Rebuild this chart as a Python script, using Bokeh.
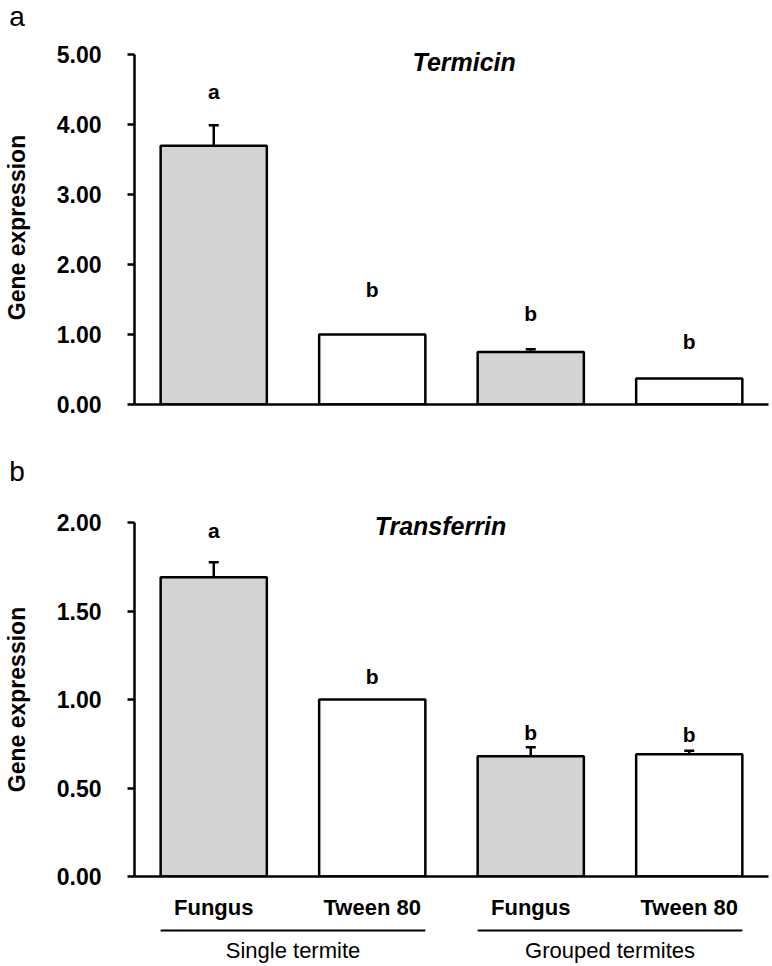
from bokeh.plotting import figure
from bokeh.models import (Range1d, FixedTicker, NumeralTickFormatter, ColumnDataSource,
                          Whisker, TeeHead, LabelSet, Label)
from bokeh.layouts import column
from bokeh.embed import file_html
from bokeh.resources import INLINE
from bokeh.core.properties import value

# ---------------- data ----------------
treatments = ["Fungus", "Tween 80", "Fungus", "Tween 80"]
groups = ["Single termite", "Single termite", "Grouped termites", "Grouped termites"]

termicin_mean = [3.70, 1.00, 0.75, 0.37]
termicin_err = [0.29, 0.0, 0.04, 0.0]
termicin_letters = ["a", "b", "b", "b"]
termicin_letter_y = [4.37, 1.53, 1.19, 0.80]
termicin_ticks = [0, 1, 2, 3, 4, 5]

transferrin_mean = [1.69, 1.00, 0.68, 0.69]
transferrin_err = [0.085, 0.0, 0.05, 0.02]
transferrin_letters = ["a", "b", "b", "b"]
transferrin_letter_y = [1.91, 1.085, 0.77, 0.76]
transferrin_ticks = [0, 0.5, 1.0, 1.5, 2.0]

# ---------------- style ----------------
FONT = "Liberation Sans"
W = 772
BL, BR = 131, 4
xs = [i + 0.5 for i in range(len(treatments))]
x_range = Range1d(0, len(treatments))
colors = ["#d3d3d3" if t == "Fungus" else "#ffffff" for t in treatments]


def make_panel(means, errs, letters, letter_y, ticks, ymax, yextra, title, plabel,
               height, btop, bbot, title_xy, title_side, plabel_xy, both, show_x_labels):
    p = figure(width=W, height=height, x_range=x_range, y_range=Range1d(0, ymax + yextra),
               output_backend="svg", toolbar_location=None,
               min_border_left=BL, min_border_right=BR,
               min_border_top=btop, min_border_bottom=bbot)
    p.outline_line_color = None
    p.grid.visible = False

    src = ColumnDataSource(dict(x=xs, top=means, color=colors, lab=letters, ly=letter_y))
    p.vbar(x="x", top="top", width=0.67, source=src, fill_color="color",
           line_color="black", line_width=2.5)

    keep = [i for i, e in enumerate(errs) if e > 0]
    wsrc = ColumnDataSource(dict(
        x=[xs[i] for i in keep],
        upper=[means[i] + errs[i] for i in keep],
        lower=[(means[i] - errs[i]) if both else means[i] for i in keep]))
    w = Whisker(base="x", upper="upper", lower="lower", source=wsrc,
                line_color="black", line_width=2.5,
                upper_head=TeeHead(size=10, line_width=2.5, line_color="black"),
                lower_head=TeeHead(size=10, line_width=2.5, line_color="black") if both else None)
    p.add_layout(w)

    p.add_layout(LabelSet(x="x", y="ly", text="lab", source=src, text_align="center",
                          text_baseline="alphabetic",
                          text_font=value(FONT), text_font_style="bold",
                          text_font_size="21px", text_color="black"))

    tl = Label(x=title_xy[0], y=title_xy[1], text=title, text_align="center",
               text_baseline="middle", text_font=FONT,
               text_font_style="bold italic", text_font_size="25px", text_color="black")
    if title_side == "center":
        p.add_layout(tl)
    else:
        p.add_layout(tl, title_side)
    # panel letter, placed in the top border so it is not clipped
    p.add_layout(Label(x=plabel_xy[0], y=plabel_xy[1], text=plabel, text_align="left",
                       text_baseline="middle", text_font=FONT,
                       text_font_size="28px", text_color="black"), "above")

    ya = p.yaxis[0]
    ya.bounds = (0, ymax)
    ya.ticker = FixedTicker(ticks=ticks)
    ya.formatter = NumeralTickFormatter(format="0.00")
    ya.axis_label = "Gene expression"
    ya.axis_label_text_font = FONT
    ya.axis_label_text_font_style = "bold"
    ya.axis_label_text_font_size = "23px"
    ya.axis_label_standoff = 24
    ya.major_label_text_font = FONT
    ya.major_label_text_font_style = "bold"
    ya.major_label_text_font_size = "23px"
    ya.major_label_standoff = 26
    ya.axis_line_width = 2.5
    ya.major_tick_line_width = 2.5
    ya.major_tick_out = 7
    ya.major_tick_in = 0
    ya.minor_tick_line_color = None
    ya.axis_line_color = "black"
    ya.major_tick_line_color = "black"
    ya.major_label_text_color = "black"
    ya.axis_label_text_color = "black"

    xa = p.xaxis[0]
    xa.axis_line_width = 2.5
    xa.axis_line_color = "black"
    xa.minor_tick_line_color = None
    xa.major_tick_line_color = None
    xa.major_tick_out = 0
    xa.major_tick_in = 0
    if show_x_labels:
        xa.ticker = FixedTicker(ticks=xs)
        xa.major_label_overrides = {x: t for x, t in zip(xs, treatments)}
        xa.major_label_text_font = FONT
        xa.major_label_text_font_style = "bold"
        xa.major_label_text_font_size = "22px"
        xa.major_label_text_color = "black"
        xa.major_label_standoff = 18
    else:
        xa.ticker = FixedTicker(ticks=[])
    return p


p1 = make_panel(termicin_mean, termicin_err, termicin_letters, termicin_letter_y,
                termicin_ticks, 5, 0.06, "Termicin", "a", height=440, btop=50, bbot=36,
                title_xy=(2.08, 4.90), title_side="center", plabel_xy=(-0.79, 5.54),
                both=False, show_x_labels=False)
p2 = make_panel(transferrin_mean, transferrin_err, transferrin_letters, transferrin_letter_y,
                transferrin_ticks, 2, 0.0, "Transferrin", "b", height=482, btop=82, bbot=46,
                title_xy=(1.93, 1.98), title_side="above", plabel_xy=(-0.79, 2.29),
                both=True, show_x_labels=True)

# group labels strip
p3 = figure(width=W, height=44, x_range=x_range, y_range=Range1d(0, 1),
            x_axis_location=None, y_axis_location=None,
            output_backend="svg", toolbar_location=None,
            min_border_left=BL, min_border_right=BR, min_border_top=0, min_border_bottom=0)
p3.outline_line_color = None
p3.grid.visible = False

group_names = []
for g in groups:
    if g not in group_names:
        group_names.append(g)
gx0, gx1, gxc = [], [], []
for g in group_names:
    idx = [i for i, gg in enumerate(groups) if gg == g]
    gx0.append(xs[min(idx)] - 0.335)
    gx1.append(xs[max(idx)] + 0.335)
    gxc.append(sum(xs[i] for i in idx) / len(idx))
p3.segment(x0=gx0, x1=gx1, y0=[0.82] * len(gx0), y1=[0.82] * len(gx0),
           line_color="black", line_width=2)
p3.text(x=gxc, y=[0.36] * len(gxc), text=group_names, text_align="center",
        text_baseline="alphabetic", text_font=value(FONT), text_font_size="22px",
        text_color="black")

layout = column(p1, p2, p3)
open("out.html", "w").write(file_html(layout, INLINE))
